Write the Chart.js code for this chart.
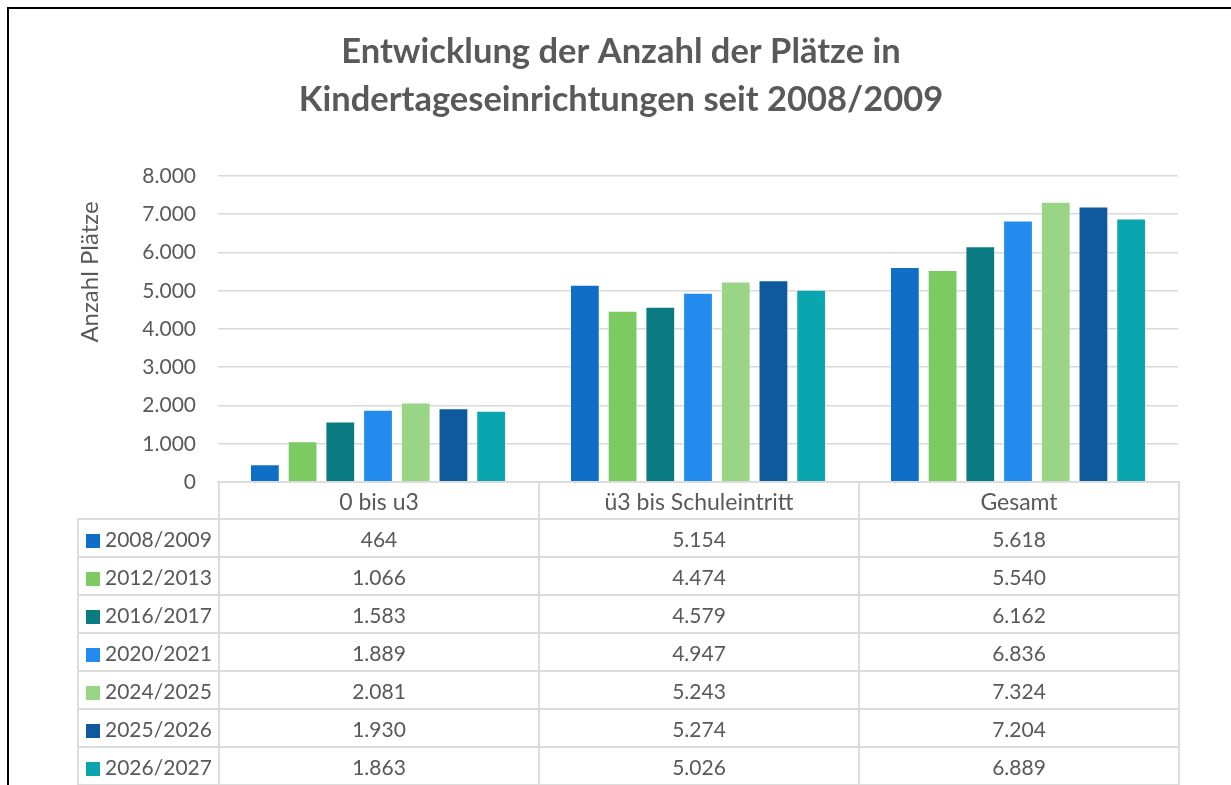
<!DOCTYPE html>
<html lang="de">
<head>
<meta charset="utf-8">
<script src="https://cdn.jsdelivr.net/npm/chart.js@4.4.1/dist/chart.umd.min.js"></script>
<style>
  html, body { margin: 0; padding: 0; background: #fff; width: 1231px; height: 785px; overflow: hidden; }
  #frame { position: absolute; left: 7px; top: 7px; width: 1400px; height: 1000px; border-left: 2px solid #000; border-top: 2px solid #000; box-sizing: border-box; pointer-events: none; }
  #wrap { position: absolute; left: 0; top: 0; width: 1231px; height: 785px; }
  #dt { position: absolute; border-collapse: collapse; table-layout: fixed; font-family: Lato, "Open Sans", sans-serif; font-size: 21px; color: #595959; }
  #dt td { border: 2px solid #dcdcdc; padding: 0; text-align: center; white-space: nowrap; overflow: hidden; }
  #dt td.hd { font-size: 23px; }
  #dt td.corner { border-top: none; border-left: none; }
  #dt td.lab { text-align: left; padding-left: 7px; }
  #dt .sw { display: inline-block; width: 14px; height: 14px; margin-right: 5px; vertical-align: -1px; }
</style>
</head>
<body>
<div id="wrap"><canvas id="c" width="1231" height="785"></canvas></div>
<table id="dt"></table>
<div id="frame"></div>
<script>
// ---- data ----
const titleLines = ["Entwicklung der Anzahl der Plätze in", "Kindertageseinrichtungen seit 2008/2009"];
const yTitle = "Anzahl Plätze";
const categories = ["0 bis u3", "ü3 bis Schuleintritt", "Gesamt"];
const seasons = ["2008/2009", "2012/2013", "2016/2017", "2020/2021", "2024/2025", "2025/2026", "2026/2027"];
const v2008 = [464, 5154, 5618];
const v2012 = [1066, 4474, 5540];
const v2016 = [1583, 4579, 6162];
const v2020 = [1889, 4947, 6836];
const v2024 = [2081, 5243, 7324];
const v2025 = [1930, 5274, 7204];
const v2026 = [1863, 5026, 6889];
const seriesValues = [v2008, v2012, v2016, v2020, v2024, v2025, v2026];
const seriesColors = ["#0F6FC6", "#7CCA62", "#0A7C81", "#238BEE", "#98D686", "#0E5A9C", "#0AA5AE"];
const yTickMax = 8000;
const yTickStep = 1000;

function fmt(n) {
  return String(Math.round(n)).replace(/\B(?=(\d{3})+(?!\d))/g, ".");
}

const TXT = "#595959";
const FONT = "Lato, 'Open Sans', sans-serif";

const yTitlePlugin = {
  id: "yTitle",
  afterDraw(chart) {
    const ctx = chart.ctx;
    ctx.save();
    ctx.translate(90, 272);
    ctx.rotate(-Math.PI / 2);
    ctx.font = "24px " + FONT;
    ctx.fillStyle = TXT;
    ctx.textAlign = "center";
    ctx.textBaseline = "middle";
    ctx.fillText(yTitle, 0, 0);
    ctx.restore();
  }
};

const chart = new Chart(document.getElementById("c"), {
  type: "bar",
  data: {
    labels: categories,
    datasets: seasons.map((s, i) => ({
      label: s,
      data: seriesValues[i],
      backgroundColor: seriesColors[i],
      borderColor: "rgba(255,255,255,0.45)",
      borderWidth: 1,
      categoryPercentage: 0.825,
      barPercentage: 0.79
    }))
  },
  options: {
    responsive: false,
    animation: false,
    events: [],
    layout: { padding: { left: 64, right: 53, top: 8, bottom: 303 } },
    plugins: {
      legend: { display: false },
      tooltip: { enabled: false },
      title: {
        display: true,
        text: titleLines,
        color: TXT,
        font: { family: FONT, size: 34.5, weight: "bold", lineHeight: 48 / 34.5 },
        padding: { top: 20, bottom: 52 }
      }
    },
    scales: {
      x: {
        grid: { display: false, drawTicks: false },
        border: { display: true, color: "#d9d9d9", width: 2 },
        ticks: { display: false }
      },
      y: {
        min: 0,
        max: yTickMax,
        ticks: {
          stepSize: yTickStep,
          padding: 22,
          color: TXT,
          font: { family: FONT, size: 21 },
          callback: (v) => fmt(v)
        },
        grid: { color: "#d9d9d9", lineWidth: 1.6, drawTicks: false },
        border: { display: false },
        afterFit(s) { s.width = 154; }
      }
    }
  },
  plugins: [yTitlePlugin]
});

// ---- data table built from the same arrays and the chart's x scale ----
(function buildTable() {
  const xs = chart.scales.x;
  const catW = xs.width / categories.length;
  const labelLeft = 77;
  const tbl = document.getElementById("dt");
  tbl.style.left = labelLeft + "px";
  tbl.style.top = (xs.top - 1) + "px";
  tbl.style.width = (xs.right - labelLeft) + "px";
  const cg = document.createElement("colgroup");
  const c0 = document.createElement("col"); c0.style.width = (xs.left - labelLeft) + "px"; cg.appendChild(c0);
  categories.forEach(() => { const c = document.createElement("col"); c.style.width = catW + "px"; cg.appendChild(c); });
  tbl.appendChild(cg);
  const hr = document.createElement("tr");
  hr.style.height = "37px";
  const corner = document.createElement("td"); corner.className = "corner"; hr.appendChild(corner);
  categories.forEach(c => { const td = document.createElement("td"); td.className = "hd"; td.textContent = c; hr.appendChild(td); });
  tbl.appendChild(hr);
  seasons.forEach((s, i) => {
    const tr = document.createElement("tr");
    tr.style.height = "38px";
    const lab = document.createElement("td"); lab.className = "lab";
    const sw = document.createElement("span"); sw.className = "sw"; sw.style.background = seriesColors[i];
    lab.appendChild(sw); lab.appendChild(document.createTextNode(s));
    tr.appendChild(lab);
    seriesValues[i].forEach(v => { const td = document.createElement("td"); td.textContent = fmt(v); tr.appendChild(td); });
    tbl.appendChild(tr);
  });
})();
</script>
</body>
</html>
